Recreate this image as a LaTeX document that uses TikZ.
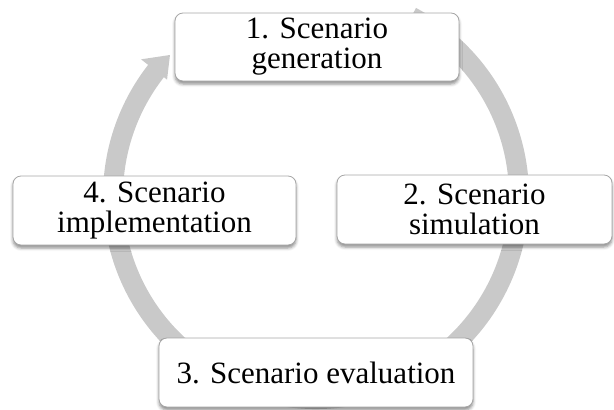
\documentclass[tikz,border=0pt]{standalone}
\usepackage{fontspec}
\setmainfont{Liberation Serif}
\usetikzlibrary{shadows.blur}
\definecolor{ringgray}{HTML}{C9C9C9}
\definecolor{boxedge}{HTML}{A6A6A6}
\begin{document}
\begin{tikzpicture}[x=1pt,y=1pt,
  stagebox/.style={draw=boxedge, line width=0.8pt, fill=white, rounded corners=8pt,
    align=center, inner sep=0pt, font=\fontsize{31}{30}\selectfont,
    blur shadow={shadow xshift=0pt, shadow yshift=-3pt, shadow blur radius=3pt, shadow opacity=45}}]
  \useasboundingbox (0,0) rectangle (614,-410);

  % circular arrow running clockwise behind the stages
  \begin{scope}[shift={(316,-196)}]
    \fill[ringgray]
      (62:213) arc[start angle=62, end angle=-218, radius=213]
      -- (142:222) -- (136:203) -- (142:189) -- (142:193)
      arc[start angle=-218, end angle=62, radius=193] -- cycle;
  \end{scope}

  % stages
  \node[stagebox, minimum width=284pt, minimum height=68pt] (gen) at (317,-47)
    {1. Scenario\\generation};
  \node[stagebox, minimum width=275pt, minimum height=69pt] (sim) at (474.5,-209.5)
    {2. Scenario\\simulation};
  \node[stagebox, minimum width=314pt, minimum height=69pt] (eval) at (316,-372.5)
    {3. Scenario evaluation};
  \node[stagebox, minimum width=283pt, minimum height=69pt] (impl) at (154.5,-210.5)
    {4. Scenario\\implementation};
\end{tikzpicture}
\end{document}
